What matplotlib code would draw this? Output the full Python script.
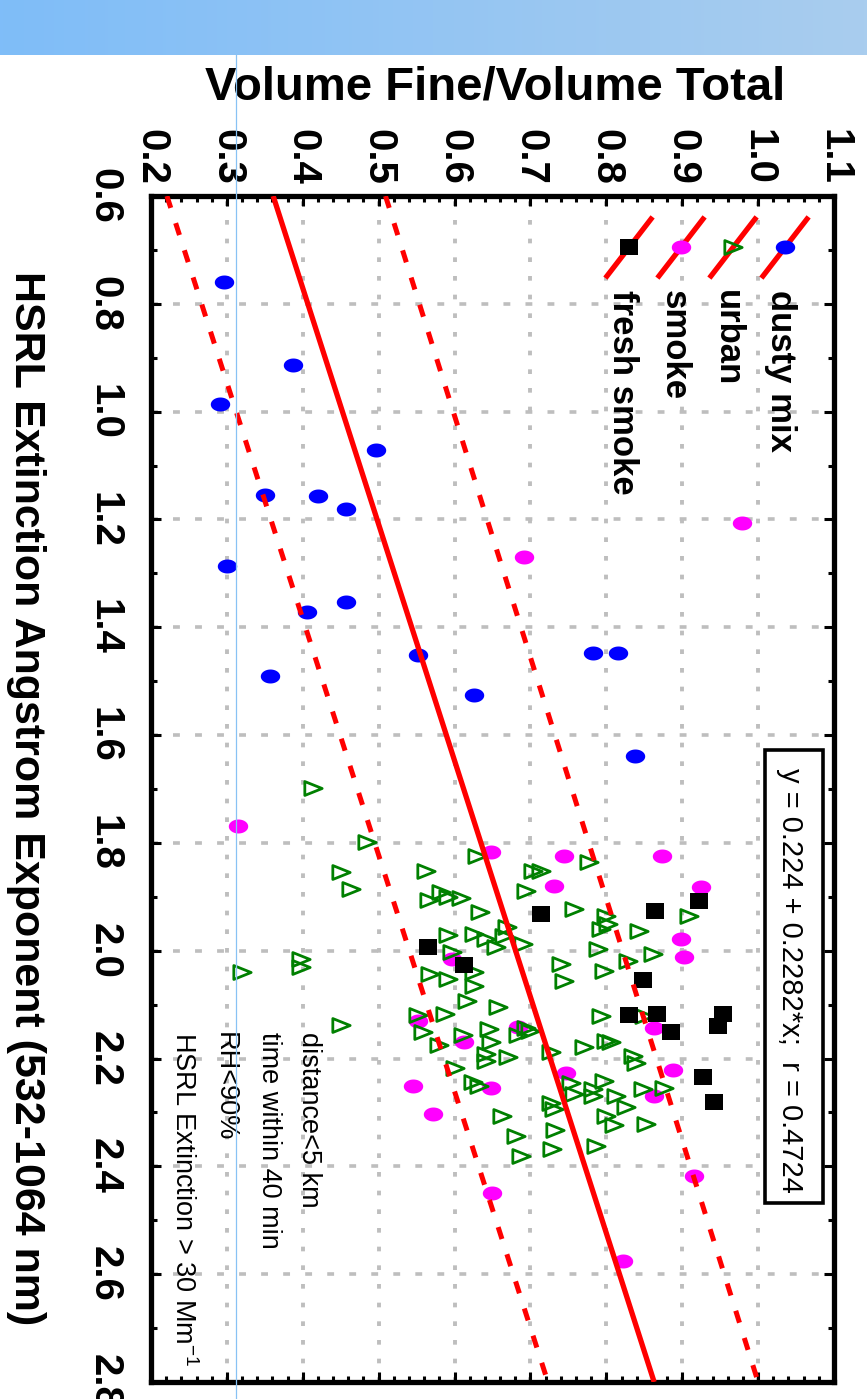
import numpy as np
import matplotlib
matplotlib.use("Agg")
import matplotlib.pyplot as plt
from matplotlib.path import Path
from matplotlib.lines import Line2D
from matplotlib.patches import Rectangle
from matplotlib.ticker import MultipleLocator
from matplotlib.colors import LinearSegmentedColormap

plt.rcParams['font.family'] = ['Liberation Sans', 'DejaVu Sans']
plt.rcParams['mathtext.fontset'] = 'custom'
plt.rcParams['mathtext.rm'] = 'Liberation Sans'
plt.rcParams['mathtext.it'] = 'Liberation Sans:italic'
plt.rcParams['mathtext.bf'] = 'Liberation Sans:bold'

# ---------------- data ----------------
# x: HSRL Extinction Angstrom Exponent ; y: Volume Fine / Volume Total
dusty_ae = [0.759, 0.913, 0.985, 1.072, 1.154, 1.157, 1.181, 1.287, 1.354, 1.372,
            1.452, 1.448, 1.448, 1.491, 1.526, 1.639]
dusty_vf = [0.296, 0.387, 0.291, 0.497, 0.350, 0.420, 0.457, 0.300, 0.457, 0.405,
            0.552, 0.782, 0.815, 0.357, 0.626, 0.838]

smoke_ae = [1.207, 1.270, 1.769, 1.817, 1.824, 1.824, 1.881, 1.880, 1.978, 2.011,
            2.015, 2.130, 2.141, 2.143, 2.169, 2.226, 2.222, 2.250, 2.254, 2.269,
            2.302, 2.417, 2.450, 2.576]
smoke_vf = [0.979, 0.692, 0.315, 0.648, 0.744, 0.873, 0.925, 0.731, 0.898, 0.902,
            0.597, 0.552, 0.683, 0.863, 0.612, 0.747, 0.888, 0.545, 0.648, 0.863,
            0.571, 0.916, 0.650, 0.822]

fresh_ae = [1.932, 1.926, 1.907, 1.993, 2.026, 2.054, 2.119, 2.117, 2.150, 2.117,
            2.139, 2.235, 2.280]
fresh_vf = [0.714, 0.864, 0.922, 0.565, 0.612, 0.848, 0.830, 0.867, 0.885, 0.954,
            0.947, 0.927, 0.942]

urban_ae = [1.698, 1.798, 1.854, 1.885, 2.015, 2.030, 2.039, 2.137, 1.824, 1.852,
            1.852, 1.852, 1.889, 1.891, 1.906, 1.900, 1.902, 1.928, 1.970, 1.969,
            1.956, 1.972, 1.978, 1.993, 1.987, 2.002, 2.043, 2.052, 2.039, 2.065,
            2.093, 2.024, 2.057, 2.104, 2.120, 2.117, 2.150, 2.174, 2.157, 2.146,
            2.156, 2.144, 2.148, 2.169, 2.191, 2.204, 2.198, 2.217, 2.243, 2.250,
            2.187, 2.283, 2.293, 2.333, 2.367, 2.307, 2.343, 2.380, 1.835, 1.922,
            1.935, 1.950, 1.959, 1.963, 1.935, 1.996, 2.006, 2.019, 2.037, 2.122,
            2.122, 2.178, 2.167, 2.169, 2.196, 2.209, 2.246, 2.265, 2.241, 2.256,
            2.270, 2.270, 2.289, 2.256, 2.254, 2.307, 2.324, 2.322, 2.363]
urban_vf = [0.413, 0.485, 0.450, 0.463, 0.397, 0.397, 0.320, 0.450, 0.630, 0.562,
            0.704, 0.714, 0.694, 0.582, 0.566, 0.591, 0.608, 0.634, 0.591, 0.625,
            0.669, 0.665, 0.641, 0.654, 0.690, 0.597, 0.568, 0.591, 0.625, 0.625,
            0.617, 0.740, 0.744, 0.657, 0.552, 0.588, 0.559, 0.579, 0.611, 0.645,
            0.683, 0.694, 0.700, 0.648, 0.641, 0.641, 0.670, 0.601, 0.624, 0.632,
            0.727, 0.727, 0.731, 0.733, 0.729, 0.663, 0.681, 0.687, 0.777, 0.757,
            0.799, 0.802, 0.793, 0.843, 0.909, 0.789, 0.861, 0.828, 0.797, 0.793,
            0.850, 0.770, 0.799, 0.806, 0.835, 0.839, 0.753, 0.757, 0.797, 0.783,
            0.783, 0.813, 0.826, 0.848, 0.876, 0.799, 0.810, 0.852, 0.786]

# fit line and prediction band (end points)
fit_ae = [0.6, 2.8]
fit_vf = [0.361, 0.863]
band_hi_vf = [0.509, 1.000]
band_lo_vf = [0.221, 0.723]

vf_ticks = [0.2, 0.3, 0.4, 0.5, 0.6, 0.7, 0.8, 0.9, 1.0, 1.1]
vf_labels = ["0.2", "0.3", "0.4", "0.5", "0.6", "0.7", "0.8", "0.9", "1.0", "1.1"]
ae_ticks = [0.6, 0.8, 1.0, 1.2, 1.4, 1.6, 1.8, 2.0, 2.2, 2.4, 2.6, 2.8]
ae_labels = ["0.6", "0.8", "1.0", "1.2", "1.4", "1.6", "1.8", "2.0", "2.2", "2.4", "2.6", "2.8"]

legend_labels = ["dusty mix", "urban", "smoke", "fresh smoke"]
equation_text = "y = 0.224 + 0.2282*x;  r = 0.4724"
note_lines = ["distance<5 km", "time within 40 min", "RH<90%", "HSRL Extinction > 30 Mm$^{-1}$"]
x_title = "HSRL Extinction Angstrom Exponent (532-1064 nm)"
y_title = "Volume Fine/Volume Total"

# ---------------- figure ----------------
W, H = 867, 1399
fig = plt.figure(figsize=(W / 100, H / 100), dpi=100)
fig.patch.set_facecolor('white')


def fx(px):
    return px / W


def fy(py):
    return 1 - py / H


# banner
bax = fig.add_axes([0, fy(55), 1, 55 / H])
cmap = LinearSegmentedColormap.from_list('ban', ['#7fbdf8', '#a9cdee'])
bax.imshow(np.linspace(0, 1, 256)[None, :], aspect='auto', cmap=cmap,
           extent=[0, 1, 0, 1])
bax.set_axis_off()

ax = fig.add_axes([fx(151), fy(1382), fx(834) - fx(151), fy(196) - fy(1382)])

# marker shapes
t = np.linspace(0, 2 * np.pi, 40)
ellipse = Path(np.column_stack([np.cos(t), 0.72 * np.sin(t)]), closed=True)
square = Path([[-1, -0.88], [1, -0.88], [1, 0.88], [-1, 0.88], [-1, -0.88]], closed=True)
tri_r = Path([[1, 0], [-1, 0.8], [-1, -0.8], [1, 0]], closed=True)

st_dusty = dict(marker=ellipse, ms=14, color='#0000ff', mew=0, ls='none')
st_smoke = dict(marker=ellipse, ms=14, color='#ff00ff', mew=0, ls='none')
st_urban = dict(marker=tri_r, ms=12.5, mfc='none', mec='#008000', mew=2.0, ls='none')
st_fresh = dict(marker=square, ms=13, color='black', mew=0, ls='none')

ax.plot(dusty_vf, dusty_ae, zorder=2, **st_dusty)
ax.plot(smoke_vf, smoke_ae, zorder=2.1, **st_smoke)
ax.plot(urban_vf, urban_ae, zorder=2.2, **st_urban)
ax.plot(fresh_vf, fresh_ae, zorder=2.3, **st_fresh)

red = '#ff0000'
ax.plot(fit_vf, fit_ae, color=red, lw=3.8, zorder=3, solid_capstyle='butt')
ax.plot(band_hi_vf, fit_ae, color=red, lw=3.6, ls=(0, (2.5, 3.2)), zorder=3)
ax.plot(band_lo_vf, fit_ae, color=red, lw=3.6, ls=(0, (2.5, 3.2)), zorder=3)

ax.set_xlim(0.2, 1.1)
ax.set_ylim(2.8, 0.6)

ax.tick_params(axis='x', which='both', top=True, bottom=True, labeltop=True,
               labelbottom=False, direction='in', width=2.2, pad=8)
ax.tick_params(axis='y', which='both', left=True, right=True, labelleft=True,
               labelright=False, direction='in', width=2.2, pad=20)
ax.tick_params(which='major', length=7)
ax.tick_params(which='minor', length=4)
ax.set_xticks(vf_ticks, vf_labels, rotation=-90, ha='center',
              fontsize=29, fontweight='bold')
ax.set_yticks(ae_ticks, ae_labels, rotation=-90, va='center',
              fontsize=29, fontweight='bold')
ax.xaxis.set_minor_locator(MultipleLocator(0.02))
ax.yaxis.set_minor_locator(MultipleLocator(0.1))

ax.xaxis.grid(True, which='major', color='#bebebe', lw=2.8, ls=(0, (1.2, 3.6)))
ax.yaxis.grid(True, which='major', color='#bebebe', lw=2.6, ls=(0, (1.9, 4.2)))
ax.set_axisbelow(True)
for sp in ax.spines.values():
    sp.set_linewidth(3.8)
    sp.set_color('black')

# titles
fig.text(fx(495), fy(99), y_title, ha='center', va='baseline',
         fontsize=34, fontweight='bold')
fig.text(fx(26), fy(798), x_title, rotation=-90, ha='center', va='center',
         fontsize=31, fontweight='bold')

# legend (drawn manually, rotated like the chart)
leg_cx = [785, 733, 681, 629]
leg_base = [771, 718, 665, 613]
leg_styles = [st_dusty, st_urban, st_smoke, st_fresh]
for cx, bx, lab, st in zip(leg_cx, leg_base, legend_labels, leg_styles):
    fig.add_artist(Line2D([fx(cx - 22), fx(cx + 22)], [fy(276), fy(219)],
                          color=red, lw=3.8, zorder=5))
    fig.add_artist(Line2D([fx(cx)], [fy(247)], zorder=6, **st))
    fig.text(fx(bx), fy(290), lab, rotation=-90, rotation_mode='anchor',
             ha='left', va='baseline', fontsize=25, fontweight='bold', zorder=6)

# equation box
fig.add_artist(Rectangle((fx(765), fy(1203)), fx(823) - fx(765), fy(750) - fy(1203),
                         transform=fig.transFigure, fc='white', ec='black',
                         lw=2.6, zorder=5))
fig.text(fx(782), fy(768), equation_text, rotation=-90, rotation_mode='anchor',
         ha='left', va='baseline', fontsize=21, zorder=6)

# notes
for bx, line in zip([302, 262, 218, 175], note_lines):
    fig.text(fx(bx), fy(1032), line, rotation=-90, rotation_mode='anchor',
             ha='left', va='baseline', fontsize=19.5, zorder=6)

# thin vertical guide line
fig.add_artist(Line2D([fx(236), fx(236)], [0, fy(55)], color='#88c2f4',
                      lw=0.9, zorder=10))

fig.savefig('out.png', dpi=100)
